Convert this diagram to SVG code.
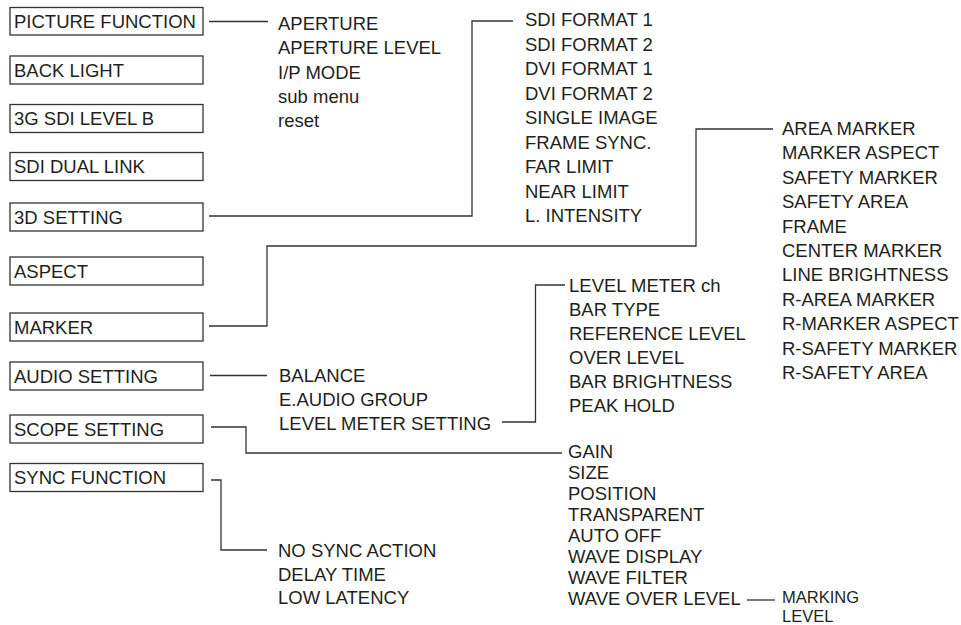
<svg xmlns="http://www.w3.org/2000/svg" width="961" height="625" viewBox="0 0 961 625">
<style>
text{font-family:"Liberation Sans",Arial,sans-serif;font-size:18.5px;fill:#231f20}
.sm{font-size:16.5px}
.box{fill:#fff;stroke:#333;stroke-width:1.3}
.conn path{fill:none;stroke:#333;stroke-width:1.3}
</style>
<rect width="961" height="625" fill="#fff"/>
<g id="n-picture"><rect class="box" x="10" y="7.5" width="193" height="27.5"/><text x="14" y="28">PICTURE FUNCTION</text></g>
<g id="n-backlight"><rect class="box" x="10" y="56" width="193" height="28"/><text x="14" y="76.5">BACK LIGHT</text></g>
<g id="n-3gsdi"><rect class="box" x="10" y="104.5" width="193" height="28"/><text x="14" y="125">3G SDI LEVEL B</text></g>
<g id="n-sdidual"><rect class="box" x="10" y="152.5" width="193" height="28"/><text x="14" y="173">SDI DUAL LINK</text></g>
<g id="n-3d"><rect class="box" x="10" y="203" width="193" height="28"/><text x="14" y="223.5">3D SETTING</text></g>
<g id="n-aspect"><rect class="box" x="10" y="257" width="193" height="28"/><text x="14" y="277.5">ASPECT</text></g>
<g id="n-marker"><rect class="box" x="10" y="313" width="193" height="28"/><text x="14" y="333.5">MARKER</text></g>
<g id="n-audio"><rect class="box" x="10" y="362" width="193" height="28"/><text x="14" y="382.5">AUDIO SETTING</text></g>
<g id="n-scope"><rect class="box" x="10" y="415" width="193" height="28"/><text x="14" y="435.5">SCOPE SETTING</text></g>
<g id="n-sync"><rect class="box" x="10" y="463.5" width="193" height="28"/><text x="14" y="484">SYNC FUNCTION</text></g>

<g id="l-picture"><text x="278" y="30">APERTURE</text><text x="278" y="54.3">APERTURE LEVEL</text><text x="278" y="78.6">I/P MODE</text><text x="278" y="102.9">sub menu</text><text x="278" y="127.2">reset</text></g>
<g id="l-3d"><text x="525" y="26">SDI FORMAT 1</text><text x="525" y="50.5">SDI FORMAT 2</text><text x="525" y="75">DVI FORMAT 1</text><text x="525" y="99.5">DVI FORMAT 2</text><text x="525" y="124">SINGLE IMAGE</text><text x="525" y="148.5">FRAME SYNC.</text><text x="525" y="173">FAR LIMIT</text><text x="525" y="197.5">NEAR LIMIT</text><text x="525" y="222">L. INTENSITY</text></g>
<g id="l-marker"><text x="782" y="135">AREA MARKER</text><text x="782" y="159.4">MARKER ASPECT</text><text x="782" y="183.8">SAFETY MARKER</text><text x="782" y="208.2">SAFETY AREA</text><text x="782" y="232.6">FRAME</text><text x="782" y="257">CENTER MARKER</text><text x="782" y="281.4">LINE BRIGHTNESS</text><text x="782" y="305.8">R-AREA MARKER</text><text x="782" y="330.2">R-MARKER ASPECT</text><text x="782" y="354.6">R-SAFETY MARKER</text><text x="782" y="379">R-SAFETY AREA</text></g>
<g id="l-level"><text x="569" y="292">LEVEL METER ch</text><text x="569" y="316">BAR TYPE</text><text x="569" y="340">REFERENCE LEVEL</text><text x="569" y="364">OVER LEVEL</text><text x="569" y="388">BAR BRIGHTNESS</text><text x="569" y="412">PEAK HOLD</text></g>
<g id="l-audio"><text x="279" y="382">BALANCE</text><text x="279" y="406">E.AUDIO GROUP</text><text x="279" y="430">LEVEL METER SETTING</text></g>
<g id="l-scope"><text x="568" y="458">GAIN</text><text x="568" y="479">SIZE</text><text x="568" y="500">POSITION</text><text x="568" y="521">TRANSPARENT</text><text x="568" y="542">AUTO OFF</text><text x="568" y="563">WAVE DISPLAY</text><text x="568" y="584">WAVE FILTER</text><text x="568" y="605">WAVE OVER LEVEL</text></g>
<g id="l-wave"><text class="sm" x="782" y="602.5">MARKING</text><text class="sm" x="782" y="621.5">LEVEL</text></g>
<g id="l-sync"><text x="278" y="557">NO SYNC ACTION</text><text x="278" y="580.5">DELAY TIME</text><text x="278" y="604">LOW LATENCY</text></g>

<g id="connectors" class="conn">
<path d="M209 21.5H268"/>
<path d="M209 216H472V21H513"/>
<path d="M209 326H267V246H696V129H773"/>
<path d="M210 375.5H267"/>
<path d="M502 422H535.5V285H565"/>
<path d="M211 427H246V453H562"/>
<path d="M211 480H221V550H267"/>
<path d="M747 600H775"/>
</g>
</svg>
